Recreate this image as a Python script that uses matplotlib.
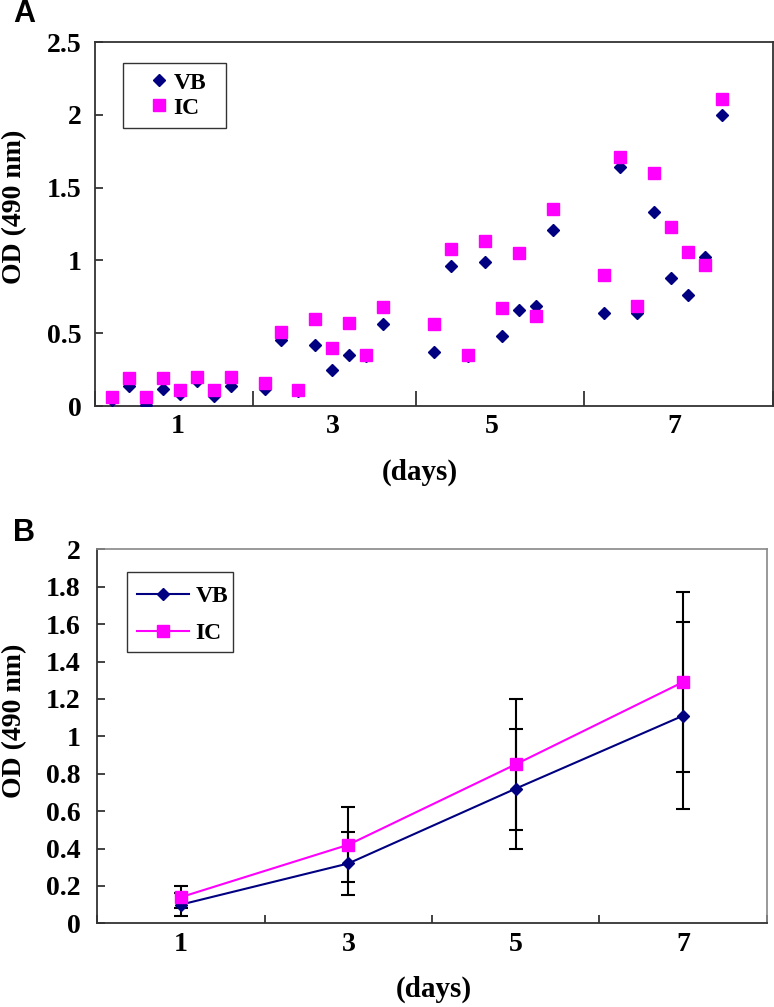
import matplotlib
matplotlib.use("Agg")
import matplotlib.pyplot as plt
from matplotlib.patches import Rectangle
from matplotlib.lines import Line2D

# ---------------- data ----------------
# Panel A: individual wells, x = sample slot along the category axis
a_pos = [1, 2, 3, 4, 5, 6, 7, 8,
         10, 11, 12, 13, 14, 15, 16, 17,
         20, 21, 22, 23, 24, 25, 26, 27,
         30, 31, 32, 33, 34, 35, 36, 37]
a_vb = [0.04, 0.14, 0.01, 0.12, 0.085, 0.17, 0.07, 0.14,
        0.12, 0.45, 0.10, 0.42, 0.25, 0.35, 0.34, 0.56,
        0.37, 0.96, 0.34, 0.99, 0.48, 0.66, 0.69, 1.21,
        0.64, 1.64, 0.64, 1.33, 0.88, 0.76, 1.02, 2.00]
a_ic = [0.06, 0.19, 0.06, 0.19, 0.11, 0.20, 0.11, 0.20,
        0.16, 0.51, 0.11, 0.60, 0.40, 0.57, 0.35, 0.68,
        0.56, 1.08, 0.35, 1.13, 0.67, 1.05, 0.62, 1.35,
        0.90, 1.71, 0.69, 1.60, 1.23, 1.06, 0.97, 2.11]
a_day_labels = ["1", "3", "5", "7"]
a_yticks = [0, 0.5, 1, 1.5, 2, 2.5]
a_ytick_labels = ["0", "0.5", "1", "1.5", "2", "2.5"]

# Panel B: means with error bars
b_days = ["1", "3", "5", "7"]
b_vb = [0.10, 0.32, 0.72, 1.11]
b_ic = [0.14, 0.42, 0.85, 1.29]
b_vb_err = [0.062, 0.17, 0.32, 0.50]
b_ic_err = [0.06, 0.20, 0.35, 0.48]
b_yticks = [0, 0.2, 0.4, 0.6, 0.8, 1.0, 1.2, 1.4, 1.6, 1.8, 2.0]
b_ytick_labels = ["0", "0.2", "0.4", "0.6", "0.8", "1", "1.2", "1.4", "1.6", "1.8", "2"]

series_names = ["VB", "IC"]

# ---------------- style ----------------
NAVY = "#000080"
MAG = "#FF00FF"
SERIF = "Liberation Serif"
SANS = "Liberation Sans"
W, H = 774, 1007
DPI = 100

fig = plt.figure(figsize=(W / DPI, H / DPI), dpi=DPI)
fig.patch.set_facecolor("white")


def px_axes(l, t, r, b):
    return fig.add_axes([l / W, 1 - b / H, (r - l) / W, (b - t) / H])


tick_font = dict(family=SERIF, weight="bold", size=20)
leg_font = dict(family=SERIF, weight="bold", size=17)

# ---------------- Panel A ----------------
axA = px_axes(95, 42, 773, 406)
axA.plot(a_pos, a_vb, linestyle="none", marker="D", markersize=6.2,
         color=NAVY, markeredgecolor=NAVY, zorder=3)
axA.plot(a_pos, a_ic, linestyle="none", marker="s", markersize=8,
         color=MAG, markeredgecolor=MAG, zorder=4)
axA.set_xlim(0, 40)
axA.set_ylim(0, 2.5)
axA.set_yticks(a_yticks)
axA.set_yticklabels(a_ytick_labels, fontdict=tick_font)
axA.set_xticks([0, 9.32, 18.94, 28.85, 40])
axA.set_xticklabels([])
axA.set_xticks([4.85, 14.05, 23.4, 34.2], minor=True)
axA.set_xticklabels(a_day_labels, minor=True, fontdict=tick_font)
axA.tick_params(axis="x", which="major", direction="in", length=11, width=1.2, color="#222222")
axA.tick_params(axis="x", which="minor", length=0, pad=6)
axA.tick_params(axis="y", direction="in", length=5.5, width=1.2, color="#222222", pad=9.4)
for s in axA.spines.values():
    s.set_color("#333333")
    s.set_linewidth(1.3)
axA.set_xlabel("(days)", family=SERIF, weight="bold", size=21)
axA.xaxis.set_label_coords((420 - 95) / 678, (406 - 459) / 364)

legA = axA.legend(
    handles=[Line2D([], [], linestyle="none", marker="D", markersize=6.2, color=NAVY),
             Line2D([], [], linestyle="none", marker="s", markersize=8, color=MAG)],
    labels=series_names, loc="center left",
    bbox_to_anchor=((148.6 - 95) / 678, (406 - 95.35) / 364),
    frameon=False, handlelength=0.9, handletextpad=0.15, labelspacing=0.15,
    borderpad=0, borderaxespad=0, prop=leg_font)
axA.add_patch(Rectangle(((122.7 - 95) / 678, (406 - 127.7) / 364), 103 / 678, 64.4 / 364,
                        transform=axA.transAxes, fill=False, edgecolor="#333333",
                        linewidth=1.0, zorder=5))

# ---------------- Panel B ----------------
axB = px_axes(97.3, 549.3, 766.7, 923.3)
xb = list(range(1, len(b_days) + 1))
axB.errorbar(xb, b_ic, yerr=b_ic_err, fmt="none", ecolor="black", elinewidth=1.5,
             capsize=5, capthick=1.5, zorder=2)
axB.errorbar(xb, b_vb, yerr=b_vb_err, fmt="none", ecolor="black", elinewidth=1.5,
             capsize=5, capthick=1.5, zorder=2)
axB.plot(xb, b_vb, color=NAVY, linewidth=1.5, marker="D", markersize=6.6,
         markeredgecolor=NAVY, zorder=3)
axB.plot(xb, b_ic, color=MAG, linewidth=1.5, marker="s", markersize=8,
         markeredgecolor=MAG, zorder=4)
axB.set_xlim(0.5, 4.5)
axB.set_ylim(0, 2)
axB.set_yticks(b_yticks)
axB.set_yticklabels(b_ytick_labels, fontdict=tick_font)
axB.set_xticks([0.5, 1.5, 2.5, 3.5, 4.5])
axB.set_xticklabels([])
axB.set_xticks(xb, minor=True)
axB.set_xticklabels(b_days, minor=True, fontdict=tick_font)
axB.tick_params(axis="x", which="major", direction="in", length=5.5, width=1.2, color="#222222")
axB.tick_params(axis="x", which="minor", length=0, pad=6)
axB.tick_params(axis="y", direction="in", length=5.5, width=1.2, color="#222222", pad=12)
axB.spines["left"].set_color("#333333")
axB.spines["bottom"].set_color("#333333")
axB.spines["left"].set_linewidth(1.3)
axB.spines["bottom"].set_linewidth(1.3)
axB.spines["top"].set_color("#888888")
axB.spines["right"].set_color("#888888")
axB.spines["top"].set_linewidth(1.2)
axB.spines["right"].set_linewidth(1.2)
axB.set_xlabel("(days)", family=SERIF, weight="bold", size=21)
axB.xaxis.set_label_coords((434 - 97.3) / 669.4, (923.3 - 976) / 374)

legB = axB.legend(
    handles=[Line2D([], [], color=NAVY, linewidth=1.5, marker="D", markersize=6.6),
             Line2D([], [], color=MAG, linewidth=1.5, marker="s", markersize=8)],
    labels=series_names, loc="center left",
    bbox_to_anchor=((136.7 - 97.3) / 669.4, (923.3 - 615) / 374),
    frameon=False, handlelength=2.2, handletextpad=0.3, labelspacing=0.65,
    borderpad=0, borderaxespad=0, prop=leg_font)
axB.add_patch(Rectangle(((126.7 - 97.3) / 669.4, (923.3 - 651.7) / 374), 106.6 / 669.4, 79.4 / 374,
                        transform=axB.transAxes, fill=False, edgecolor="#333333",
                        linewidth=1.0, zorder=5))

# ---------------- shared text ----------------
for yc in (207, 721):
    fig.text(15 / W, 1 - yc / H, "OD (490 nm)", rotation=90, ha="center", va="center",
             family=SERIF, weight="bold", size=20)
fig.text(24 / W, 1 - 14.5 / H, "A", ha="center", va="center", family=SANS, weight="bold", size=22)
fig.text(24 / W, 1 - 533 / H, "B", ha="center", va="center", family=SANS, weight="bold", size=22)

fig.savefig("out.png", dpi=DPI, facecolor="white")
